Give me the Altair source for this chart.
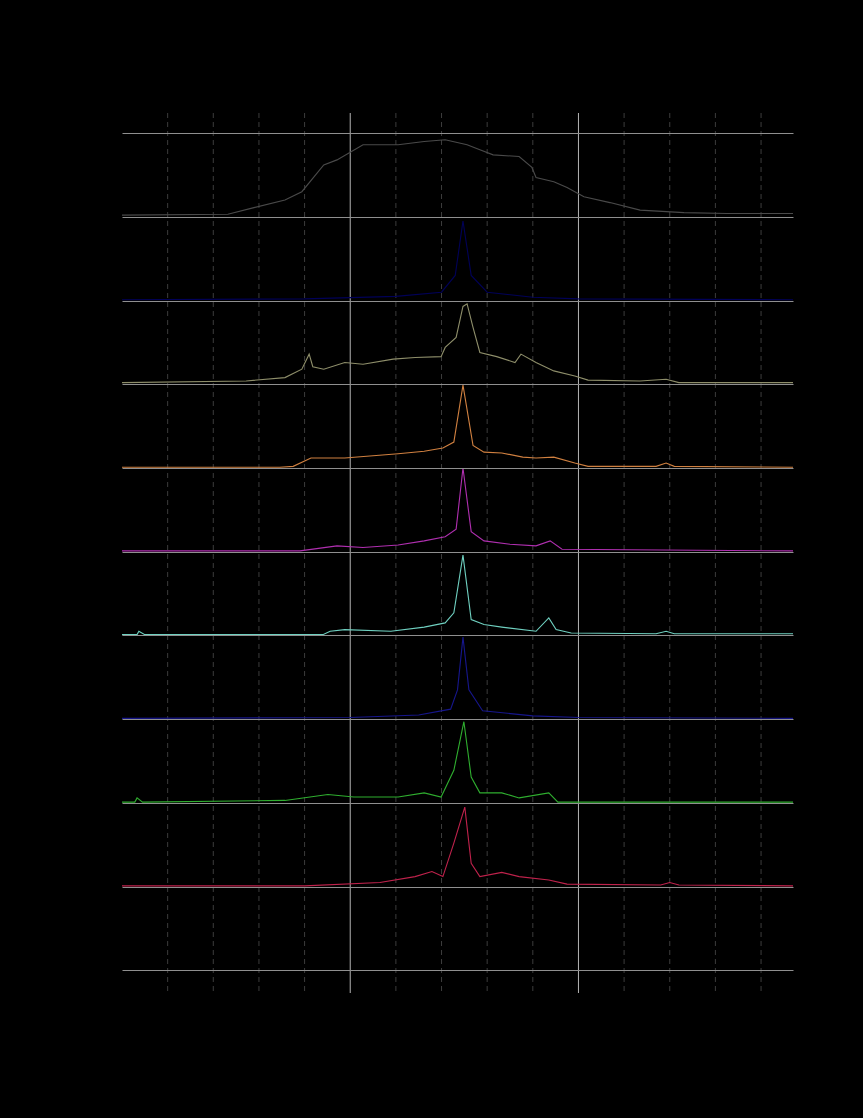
import altair as alt
import pandas as pd

# ---- data (x in arbitrary spectral units, intensity normalised 0..1) ----
s1_x = [0, 232, 289, 357, 394, 442, 471, 528, 605, 662, 708, 756, 784, 813, 870, 898, 907, 946, 975, 1012, 1069, 1135, 1231, 1325, 1470]
s1_y = [0.02, 0.03, 0.11, 0.20, 0.30, 0.62, 0.68, 0.86, 0.86, 0.90, 0.92, 0.86, 0.80, 0.74, 0.72, 0.59, 0.47, 0.42, 0.35, 0.24, 0.17, 0.08, 0.05, 0.04, 0.04]

s2_x = [0, 400, 600, 700, 730, 747, 765, 800, 900, 1000, 1470]
s2_y = [0.01, 0.02, 0.05, 0.10, 0.30, 0.95, 0.30, 0.10, 0.04, 0.02, 0.01]

s3_x = [0, 272, 357, 394, 410, 418, 442, 488, 528, 594, 642, 699, 708, 732, 747, 756, 769, 784, 821, 861, 874, 907, 946, 992, 1021, 1135, 1192, 1220, 1470]
s3_y = [0.02, 0.04, 0.08, 0.18, 0.36, 0.21, 0.18, 0.26, 0.24, 0.30, 0.32, 0.33, 0.44, 0.56, 0.93, 0.96, 0.68, 0.38, 0.33, 0.26, 0.36, 0.26, 0.16, 0.10, 0.05, 0.04, 0.06, 0.02, 0.02]

s4_x = [0, 346, 375, 414, 488, 605, 662, 703, 727, 747, 769, 793, 832, 878, 907, 946, 992, 1021, 1170, 1192, 1210, 1470]
s4_y = [0.01, 0.01, 0.02, 0.12, 0.12, 0.17, 0.20, 0.24, 0.31, 0.99, 0.27, 0.19, 0.18, 0.13, 0.12, 0.13, 0.06, 0.02, 0.02, 0.06, 0.02, 0.01]

s5_x = [0, 390, 471, 528, 605, 662, 708, 732, 747, 765, 793, 850, 907, 938, 964, 1470]
s5_y = [0.01, 0.01, 0.07, 0.05, 0.08, 0.13, 0.18, 0.27, 1.00, 0.24, 0.13, 0.09, 0.07, 0.13, 0.03, 0.01]

s6_x = [0, 33, 37, 50, 440, 456, 488, 589, 662, 708, 727, 747, 765, 793, 832, 907, 935, 951, 984, 1170, 1192, 1210, 1470]
s6_y = [0.01, 0.01, 0.05, 0.01, 0.01, 0.05, 0.07, 0.05, 0.10, 0.15, 0.27, 0.96, 0.19, 0.13, 0.10, 0.05, 0.21, 0.07, 0.03, 0.02, 0.05, 0.02, 0.02]

s7_x = [0, 500, 650, 720, 735, 747, 760, 790, 900, 1000, 1470]
s7_y = [0.01, 0.02, 0.05, 0.12, 0.35, 0.98, 0.35, 0.10, 0.04, 0.02, 0.01]

s8_x = [0, 28, 33, 45, 357, 451, 508, 605, 662, 699, 727, 749, 765, 784, 832, 870, 935, 955, 1470]
s8_y = [0.01, 0.01, 0.06, 0.01, 0.03, 0.10, 0.07, 0.07, 0.12, 0.07, 0.39, 0.97, 0.31, 0.12, 0.12, 0.06, 0.12, 0.01, 0.01]

s9_x = [0, 400, 565, 642, 679, 703, 727, 751, 765, 784, 832, 870, 935, 975, 1180, 1200, 1220, 1470]
s9_y = [0.01, 0.01, 0.05, 0.12, 0.18, 0.12, 0.52, 0.95, 0.28, 0.12, 0.17, 0.12, 0.08, 0.03, 0.02, 0.05, 0.02, 0.01]

series_names = ["s1", "s2", "s3", "s4", "s5", "s6", "s7", "s8", "s9"]
series_offsets = [9, 8, 7, 6, 5, 4, 3, 2, 1]
series_colors = ["#4a4a4a", "#000058", "#8e8e6a", "#d08040", "#b02fb0",
                 "#6fd0c0", "#16168c", "#2fae2f", "#c0224c"]
series_xs = [s1_x, s2_x, s3_x, s4_x, s5_x, s6_x, s7_x, s8_x, s9_x]
series_ys = [s1_y, s2_y, s3_y, s4_y, s5_y, s6_y, s7_y, s8_y, s9_y]

minor_x = [100, 200, 300, 400, 600, 700, 800, 900, 1100, 1200, 1300, 1400]
major_x = [500, 1000]
y_ticks = [0, 1, 2, 3, 4, 5, 6, 7, 8, 9, 10]

rows = []
for name, off, xs, ys in zip(series_names, series_offsets, series_xs, series_ys):
    for i, (xv, yv) in enumerate(zip(xs, ys)):
        rows.append({"series": name, "order": i, "x": xv, "y": off + yv})
df = pd.DataFrame(rows)

xscale = alt.Scale(domain=[0, 1470], nice=False, zero=False)
yscale = alt.Scale(domain=[-0.27, 10.24], nice=False, zero=False)

minor = alt.Chart(pd.DataFrame({"x": minor_x})).mark_rule(
    color="#3c3c3c", strokeWidth=1, strokeDash=[5, 4]
).encode(x=alt.X("x:Q", scale=xscale, axis=None))

major = alt.Chart(pd.DataFrame({"x": major_x})).mark_rule(
    color="#b4b4b4", strokeWidth=1
).encode(x=alt.X("x:Q", scale=xscale, axis=None))

lines = alt.Chart(df).mark_line(strokeWidth=1.1).encode(
    x=alt.X("x:Q", scale=xscale, axis=None),
    y=alt.Y("y:Q", scale=yscale,
            axis=alt.Axis(values=y_ticks, grid=True, gridColor="#8f8f8f",
                          gridWidth=1, labels=False, ticks=False,
                          domain=False, title=None, zindex=1)),
    color=alt.Color("series:N", scale=alt.Scale(domain=series_names,
                                                range=series_colors),
                    legend=None),
    order="order:Q",
)

chart = alt.layer(minor, major, lines).properties(
    width=671, height=880,
    background="black",
    padding={"left": 122, "top": 113, "right": 70, "bottom": 125},
    autosize=alt.AutoSizeParams(type="none"),
).configure_view(stroke=None)

chart.save("out.html", embed_options={"renderer": "svg", "actions": False})
